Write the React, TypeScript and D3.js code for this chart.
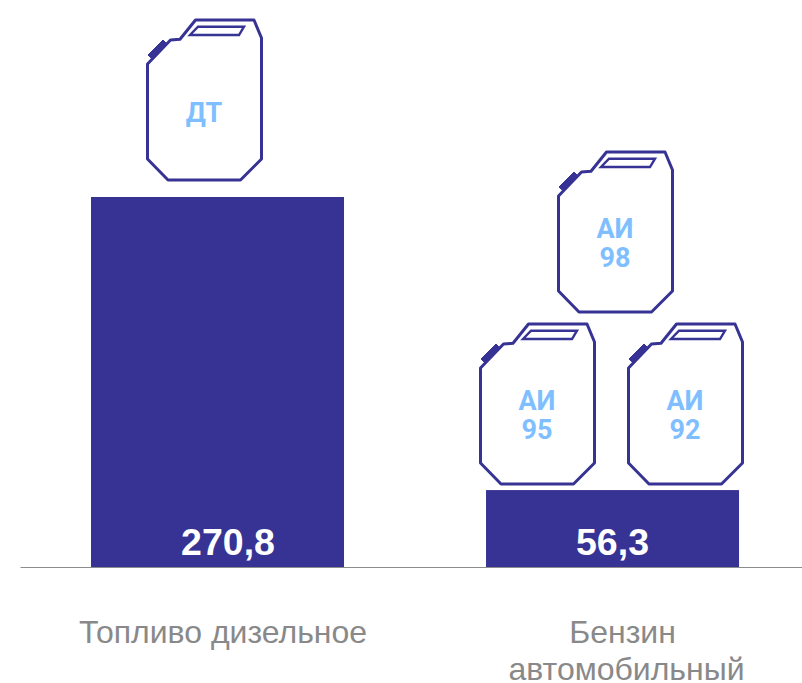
import React, { useEffect, useRef } from 'react';
import * as d3 from 'd3';

const categories = ['Топливо дизельное', 'Бензин автомобильный'];
const values = [270.8, 56.3];
const valueLabels = ['270,8', '56,3'];
const categoryLines = [['Топливо дизельное'], ['Бензин', 'автомобильный']];
const canisterLabels = [['ДТ'], ['АИ', '98'], ['АИ', '95'], ['АИ', '92']];

const WIDTH = 802;
const HEIGHT = 683;
const BASELINE = 567;

const BAR_COLOR = '#373394';
const LABEL_COLOR = '#7FBFFF';
const TEXT_GRAY = '#898989';

// canister outline, local coordinates (top left of the body = 0,0)
const bodyPoints: [number, number][] = [
  [48.5, 1], [107, 1], [114.5, 19], [114.5, 140], [93.5, 161], [21, 161], [0.5, 140],
  [0.5, 45], [23.5, 21], [33, 20.3],
];
const capPoints: [number, number][] = [[1, 36], [16, 21], [20.3, 25.3], [5.5, 40.3]];
const handlePoints: [number, number][] = [[51, 7.7], [97, 7.7], [92, 16], [43, 16]];

// where each canister sits, same order as canisterLabels
const canisterOffsets: [number, number][] = [[147, 19], [558, 151], [480, 323], [628, 323]];

const valueShift = [10.5, 0];
const categoryShift = [[5.5], [10, 14]];

const App: React.FC = () => {
  const svgRef = useRef<SVGSVGElement | null>(null);

  useEffect(() => {
    if (!svgRef.current) return;

    const svg = d3.select(svgRef.current);
    svg.selectAll('*').remove();

    const x = d3
      .scaleBand<string>()
      .domain(categories)
      .range([20, WIDTH])
      .paddingInner(0.3595)
      .paddingOuter(0.1696)
      .align(0.53);

    const y = d3.scaleLinear().domain([0, 270.8]).range([BASELINE, 197]);

    // Bars
    svg
      .selectAll('rect.bar')
      .data(categories)
      .enter()
      .append('rect')
      .attr('class', 'bar')
      .attr('x', (d) => x(d) as number)
      .attr('y', (_, i) => y(values[i]))
      .attr('width', x.bandwidth())
      .attr('height', (_, i) => BASELINE - y(values[i]))
      .attr('fill', BAR_COLOR);

    // Value labels
    svg
      .selectAll('text.value')
      .data(categories)
      .enter()
      .append('text')
      .attr('class', 'value')
      .attr('x', (d, i) => (x(d) as number) + x.bandwidth() / 2 + valueShift[i])
      .attr('y', 555)
      .attr('text-anchor', 'middle')
      .attr('fill', '#fff')
      .attr('font-family', '"Liberation Sans", Arial, sans-serif')
      .attr('font-weight', 700)
      .attr('font-size', 37.5)
      .text((_, i) => valueLabels[i]);

    // Axis
    const axis = svg
      .append('g')
      .attr('transform', `translate(0, ${BASELINE})`)
      .call(d3.axisBottom(x).tickSize(0).tickSizeOuter(0).tickFormat(() => ''));
    axis.select('.domain').attr('stroke', '#8c8c8c').attr('stroke-width', 1);

    axis
      .selectAll<SVGGElement, string>('.tick')
      .select('text')
      .each(function (_, i) {
        const t = d3.select(this);
        t.attr('y', 0).attr('dy', null);
        categoryLines[i].forEach((line, k) => {
          t.append('tspan')
            .attr('x', categoryShift[i][k])
            .attr('y', 76 + k * 37)
            .text(line);
        });
      })
      .attr('fill', TEXT_GRAY)
      .attr('font-family', '"Liberation Sans", Arial, sans-serif')
      .attr('font-size', 32)
      .attr('text-anchor', 'middle');

    // Canisters
    const line = d3.line().curve(d3.curveLinearClosed);
    const cans = svg
      .selectAll('g.can')
      .data(canisterLabels)
      .enter()
      .append('g')
      .attr('class', 'can')
      .attr('transform', (_, i) => `translate(${canisterOffsets[i][0]}, ${canisterOffsets[i][1]})`);

    cans
      .append('path')
      .attr('d', line(bodyPoints))
      .attr('fill', '#fff')
      .attr('stroke', BAR_COLOR)
      .attr('stroke-width', 3)
      .attr('stroke-linejoin', 'round');

    cans
      .append('path')
      .attr('d', line(capPoints))
      .attr('fill', BAR_COLOR)
      .attr('stroke', BAR_COLOR)
      .attr('stroke-width', 1);

    cans
      .append('path')
      .attr('d', line(handlePoints))
      .attr('fill', 'none')
      .attr('stroke', BAR_COLOR)
      .attr('stroke-width', 2.4);

    cans.each(function (lines) {
      const g = d3.select(this);
      lines.forEach((l, k) => {
        g.append('text')
          .attr('x', 57)
          .attr('y', (lines.length === 1 ? 102.5 : 87) + k * 29)
          .attr('text-anchor', 'middle')
          .attr('fill', LABEL_COLOR)
          .attr('font-family', 'Roboto, sans-serif')
          .attr('font-weight', 700)
          .attr('font-size', 27)
          .text(l);
      });
    });
  }, []);

  return (
    <svg
      ref={svgRef}
      width={WIDTH}
      height={HEIGHT}
      style={{ position: 'absolute', left: 0, top: 0 }}
    />
  );
};

export default App;
